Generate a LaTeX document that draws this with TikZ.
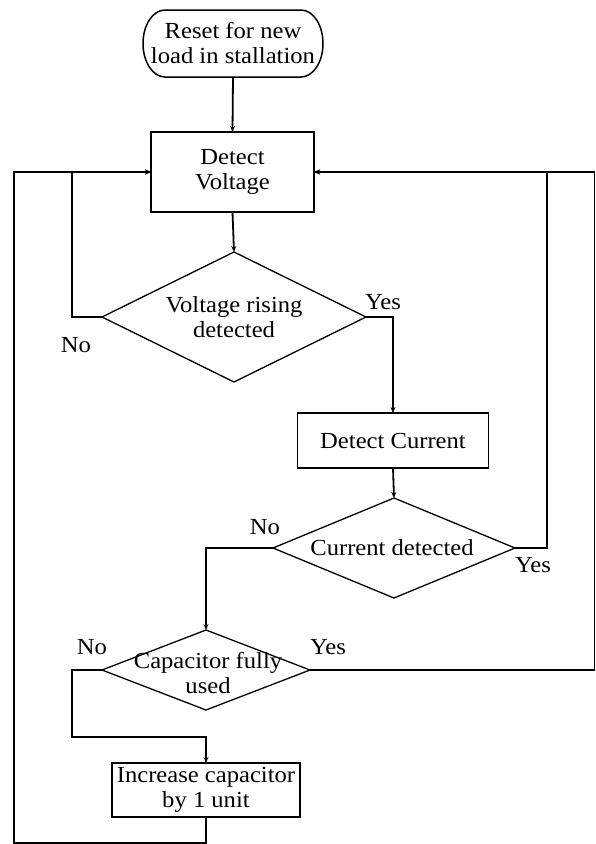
\documentclass[tikz,border=0pt]{standalone}
\usepackage{fontspec}
\setmainfont{Liberation Serif}[FakeStretch=1.07]
\usetikzlibrary{shapes.geometric,arrows.meta}
\begin{document}
\begin{tikzpicture}[x=1pt,y=-1pt,
  font=\fontsize{23}{25}\selectfont,
  box/.style={draw,line width=1.7pt,rectangle,inner sep=0pt,outer sep=0pt,align=center},
  term/.style={rectangle,inner sep=0pt,outer sep=0pt,align=center},
  termline/.style={line width=1.5pt},
  dia/.style={draw,line width=1.3pt,diamond,inner sep=0pt,outer sep=0pt},
  txt/.style={align=center,inner sep=0pt},
  lbl/.style={inner sep=0pt},
  arr/.style={line width=1.8pt,-{Stealth[length=6pt,width=5pt]}}]
\useasboundingbox (0,0) rectangle (596,844);
% nodes
\node[term,minimum width=180,minimum height=67] (start) at (233,43.5) {Reset for new\\load in stallation};
\draw[termline] ([xshift=22pt]start.north west) -- ([xshift=-22pt]start.north east)
  arc[start angle=90,end angle=-90,x radius=22pt,y radius=33.5pt]
  -- ([xshift=22pt]start.south west)
  arc[start angle=270,end angle=90,x radius=22pt,y radius=33.5pt] -- cycle;
\node[box,minimum width=163,minimum height=80] (dv) at (232.5,172) {Detect\\Voltage};
\node[dia,minimum width=264,minimum height=130] (d1) at (234,317) {};
\node[txt] (d1t) at (234,317) {Voltage rising\\detected};
\node[box,minimum width=191,minimum height=55] (dc) at (393,440.5) {Detect Current};
\node[dia,minimum width=242,minimum height=100] (d2) at (394,548) {};
\node[txt] (d2t) at (392,548) {Current detected};
\node[dia,minimum width=208,minimum height=80] (d3) at (206,670) {};
\node[txt] (d3t) at (208,673) {Capacitor fully\\used};
\node[box,minimum width=188,minimum height=54] (inc) at (206,790) {Increase capacitor\\by 1 unit};
% labels
\node[lbl] (n1) at (76,345) {No};
\node[lbl] (y1) at (383,302) {Yes};
\node[lbl] (n2) at (265,527) {No};
\node[lbl] (y2) at (533,565) {Yes};
\node[lbl] (n3) at (92,647) {No};
\node[lbl] (y3) at (328,647) {Yes};
% helper coordinates
\coordinate (l1) at (72,172);
\coordinate (r1) at (547,172);
\coordinate (r2) at (594.5,172);
\coordinate (l2) at (72,737);
\coordinate (b1) at (14,843);
% connectors
\draw[arr] (start.south) -- (dv.north);
\draw[arr] (dv.south) -- (d1.north);
\draw[arr] (d1.west) -| (l1) -- (dv.west);
\draw[arr] (d1.east) -| (dc.north);
\draw[arr] (dc.south) -- (d2.north);
\draw[arr] (d2.east) -| (r1) -- (dv.east);
\draw[arr] (d2.west) -| (d3.north);
\draw[arr] (d3.east) -| (r2) -- (dv.east);
\draw[arr] (d3.west) -| (l2) -| (inc.north);
\draw[arr] (inc.south) |- (b1) |- (dv.west);
\end{tikzpicture}
\end{document}
